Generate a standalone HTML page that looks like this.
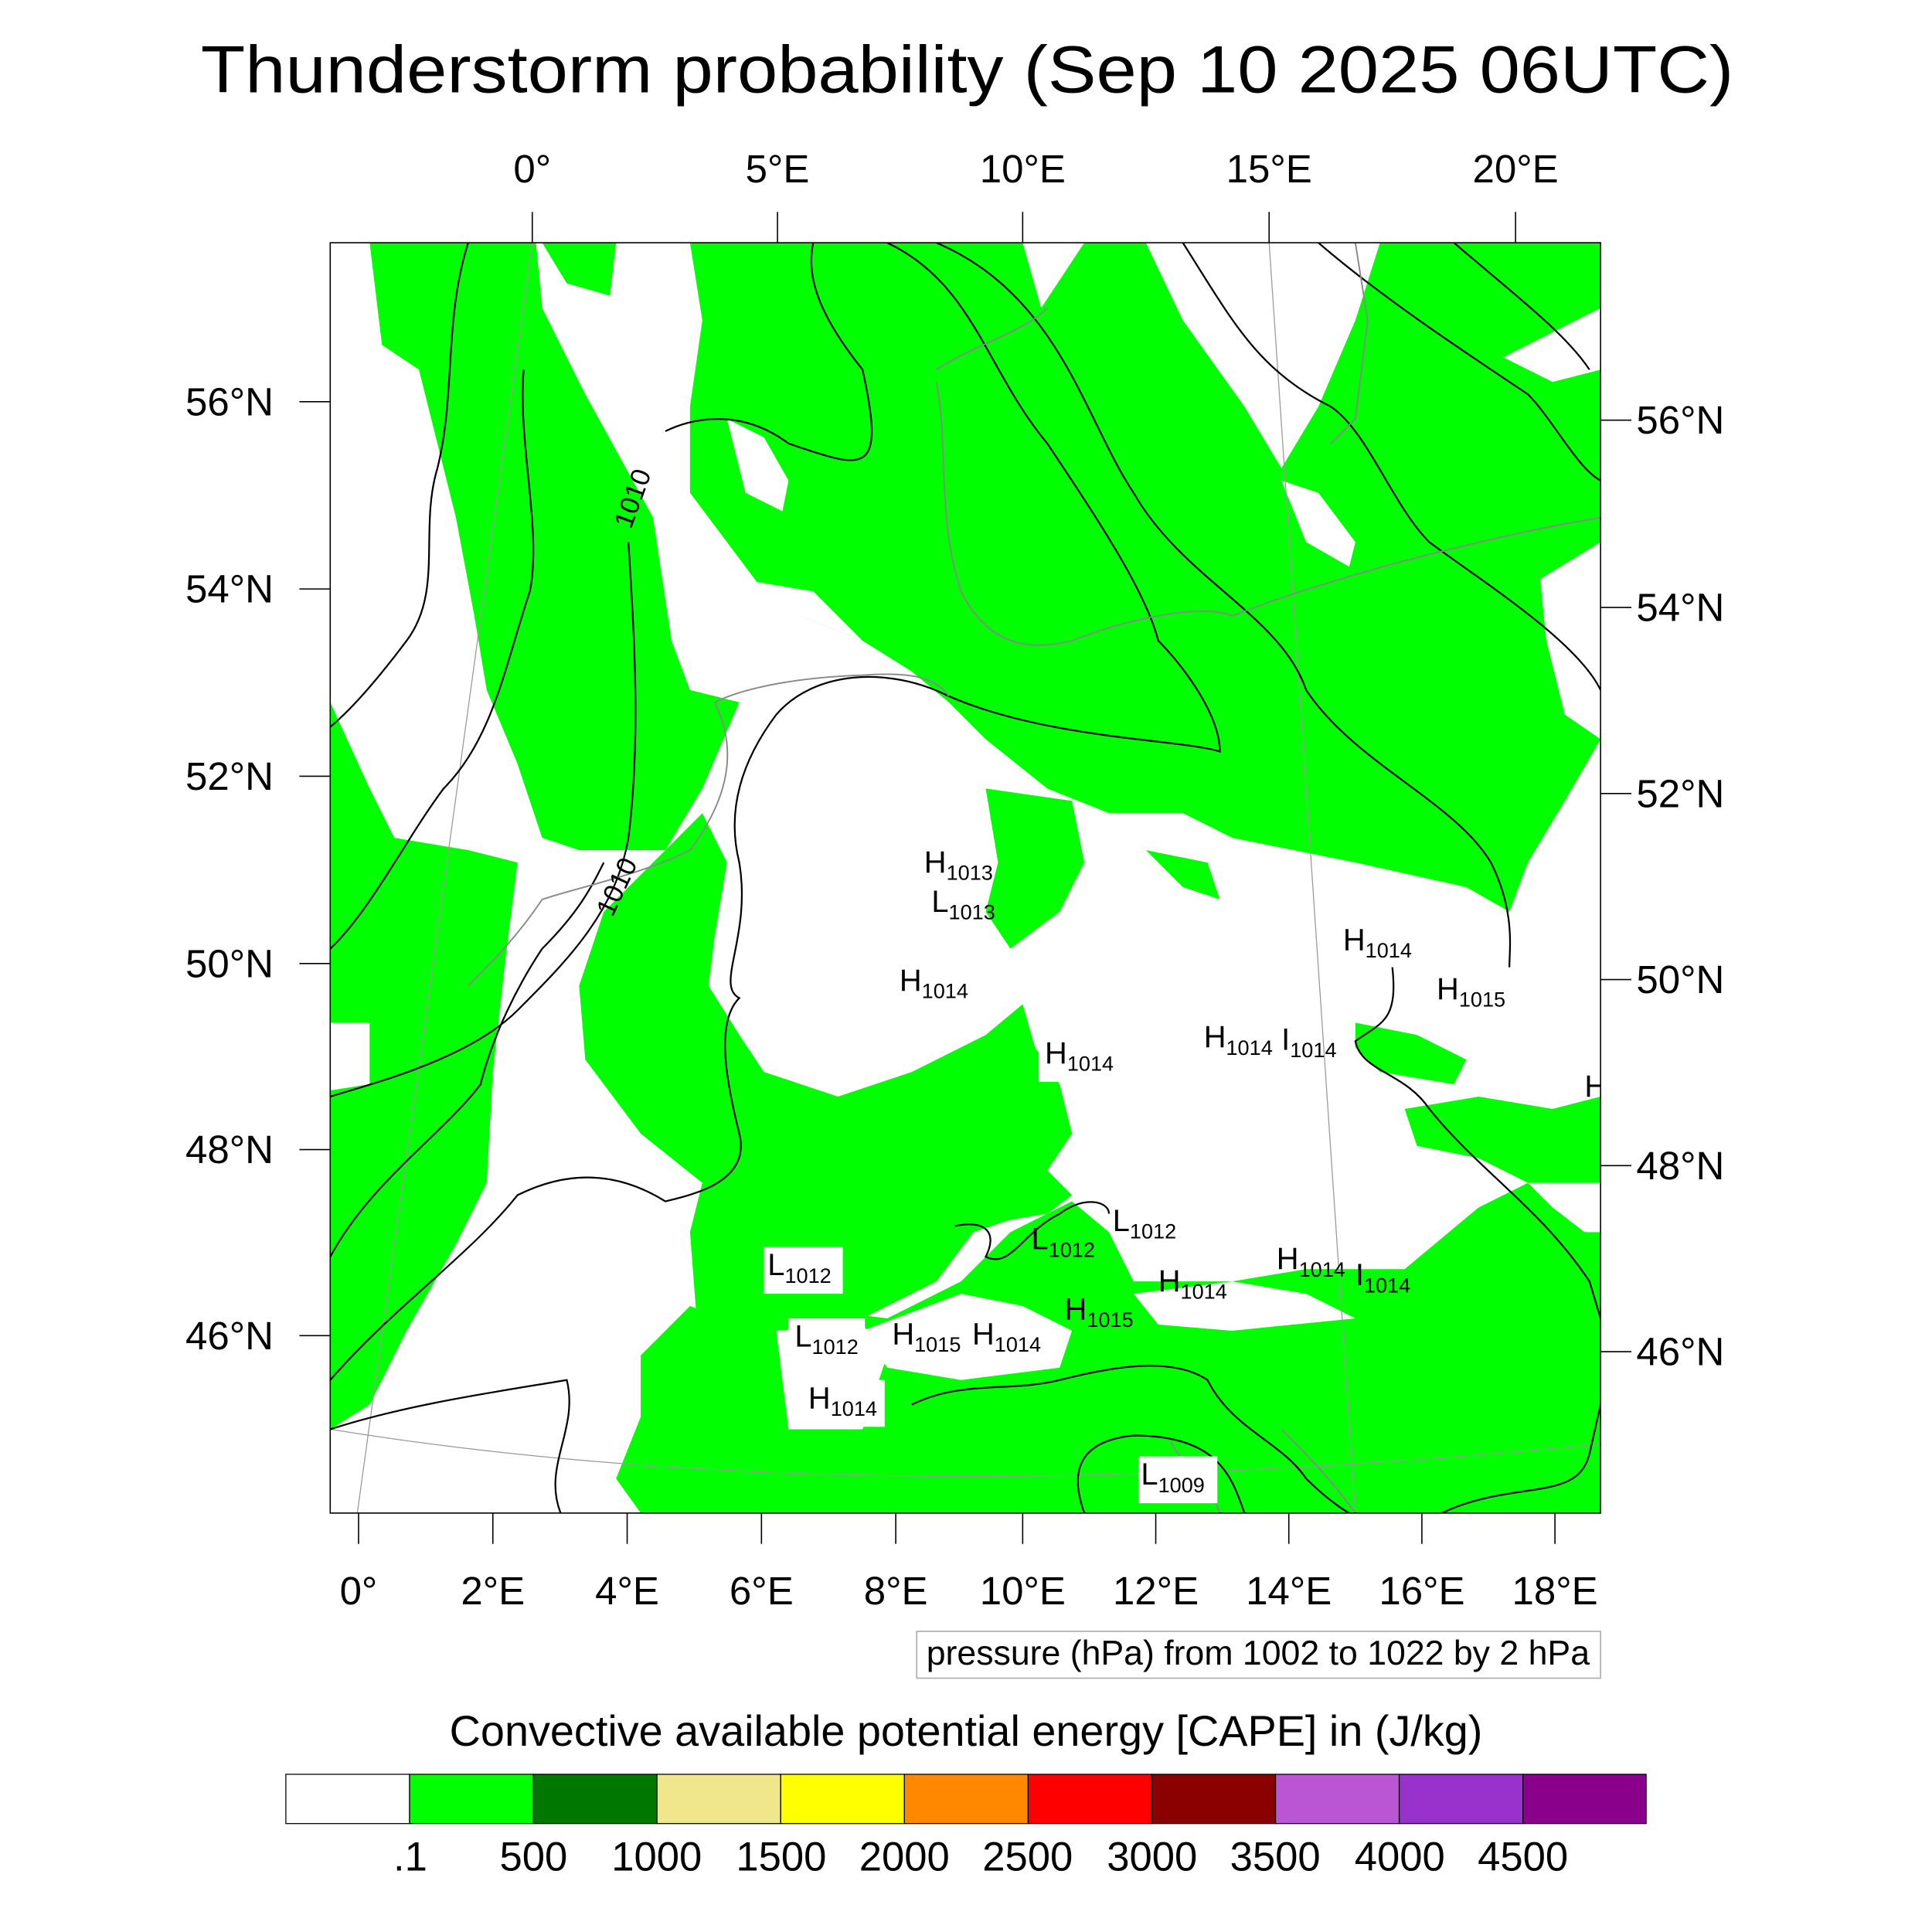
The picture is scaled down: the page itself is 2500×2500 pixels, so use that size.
<!DOCTYPE html>
<html><head><meta charset="utf-8"><style>
html,body{margin:0;padding:0;background:#fff}
svg{display:block}
text{font-family:"Liberation Sans",Arial,sans-serif;fill:#000}
</style></head><body>
<svg width="2500" height="2500" viewBox="0 0 1568 1568" xmlns="http://www.w3.org/2000/svg">
<rect width="1568" height="1568" fill="#fff"/>
<text x="785" y="75" font-size="54" text-anchor="middle" textLength="1244" lengthAdjust="spacingAndGlyphs">Thunderstorm probability (Sep 10 2025 06UTC)</text>
<defs><clipPath id="c"><rect x="268" y="197" width="1031" height="1031"/></clipPath></defs>
<g clip-path="url(#c)">
<g fill="#00ff00">
<polygon points="300,197 435,197 440,250 475,320 530,420 545,520 560,560 600,570 570,640 540,690 470,690 440,680 420,620 395,560 385,500 370,420 340,300 310,280"/>
<polygon points="440,197 500,197 495,240 460,230"/>
<polygon points="268,570 300,640 320,680 380,690 420,700 410,780 400,870 395,960 370,1010 330,1080 300,1140 268,1160"/>
<polygon points="470,800 490,740 540,690 570,660 590,700 580,760 575,800 600,840 620,870 680,890 740,870 800,840 830,815 840,850 860,880 870,920 850,950 870,970 850,985 820,990 790,1000 760,1040 700,1070 650,1080 600,1075 565,1065 560,1000 570,960 520,920 475,860"/>
<polygon points="520,1100 560,1060 600,1075 640,1060 720,1070 780,1040 820,1000 870,975 900,1000 920,1040 1000,1040 1060,1030 1140,1030 1200,980 1240,960 1260,980 1299,1010 1299,1228 520,1228 500,1200 520,1150"/>
<polygon points="560,197 830,197 845,250 880,197 930,197 960,260 1010,330 1040,380 1070,330 1100,260 1120,197 1299,197 1299,250 1220,290 1260,310 1299,300 1299,600 1270,650 1240,700 1225,740 1190,720 1100,700 1000,680 960,660 900,660 850,640 800,600 770,570 740,545 700,520 650,500 620,480 590,440 560,400 560,330 570,260"/>
<polygon points="800,640 870,650 880,700 860,740 820,770 800,740 810,700"/>
<polygon points="930,690 980,700 990,730 960,720"/>
<polygon points="1100,830 1150,840 1190,860 1180,880 1120,870 1100,850"/>
<polygon points="1140,900 1200,890 1260,900 1299,890 1299,960 1240,960 1200,940 1150,930"/>
<polygon points="1150,1025 1180,1000 1299,1000 1299,1060 1180,1060"/>
</g>
<g fill="#fff">
<polygon points="1040,390 1070,400 1100,440 1095,460 1060,440"/>
<polygon points="1250,470 1299,440 1299,600 1270,580 1255,520"/>
<polygon points="600,470 660,480 700,520 650,500 620,490"/>
<polygon points="590,340 620,355 640,390 635,415 605,400"/>
<polygon points="630,1080 700,1075 720,1100 700,1160 640,1160"/>
<polygon points="700,1080 780,1050 830,1060 870,1080 860,1110 780,1120 720,1110"/>
<polygon points="920,1050 1000,1040 1060,1050 1100,1070 1000,1080 940,1075"/>
<polygon points="268,830 300,830 300,880 268,885"/>
</g>
<g stroke="#999" stroke-width="0.8" fill="none">
<line x1="432" y1="197" x2="290" y2="1228"/>
<line x1="1030" y1="197" x2="1100" y2="1228"/>
<path d="M268,1160 Q700,1230 1299,1172"/>
</g>
<g stroke="#000" stroke-width="1.4" fill="none">
<path d="M380,197 C360,260 370,320 355,380 C340,430 360,480 330,520 C300,560 280,580 268,590"/>
<path d="M425,300 C420,360 440,430 430,480 C410,540 400,600 360,640 C330,680 300,740 268,770"/>
<path d="M510,440 C515,520 520,600 510,680 C500,740 460,780 420,820 C380,860 300,880 268,890"/>
<path d="M268,1020 C300,960 360,920 390,880 C400,840 420,800 440,770 C470,740 480,720 490,700"/>
<path d="M540,350 C560,340 600,330 640,360 C700,380 720,390 700,300 C660,250 655,220 660,197"/>
<path d="M720,197 C790,230 800,300 850,360 C890,420 930,480 940,520 C960,540 990,580 990,610 C960,600 850,600 770,565 C720,540 660,545 630,580 C600,620 590,660 600,700 C610,760 580,800 600,810 C580,830 590,880 600,920 C610,960 560,970 540,975 C500,950 460,950 420,970 C380,1020 320,1060 268,1120"/>
<path d="M760,197 C860,240 880,340 920,400 C960,470 1040,500 1060,560 C1100,620 1180,650 1210,700 C1230,740 1225,770 1225,785"/>
<path d="M960,197 C1000,260 1020,300 1080,330 C1110,350 1130,410 1160,440 C1200,470 1280,520 1299,560"/>
<path d="M1070,197 C1120,240 1180,280 1240,320 C1260,340 1280,380 1299,390"/>
<path d="M1180,197 C1230,240 1270,270 1290,300"/>
<path d="M1130,785 C1135,830 1120,830 1100,845 C1105,870 1140,870 1160,900 C1200,950 1250,980 1290,1040 L1299,1070"/>
<path d="M268,1160 C330,1140 400,1130 460,1120 C470,1160 440,1190 455,1228"/>
<path d="M740,1140 C780,1120 820,1130 860,1120 C900,1110 950,1100 980,1120 C1000,1160 1040,1170 1060,1200 C1080,1220 1095,1228 1095,1228"/>
<path d="M880,1228 C870,1200 870,1170 920,1165 C990,1165 1000,1200 1010,1228"/>
<path d="M1170,1228 C1230,1200 1280,1220 1290,1180 L1299,1140"/>
<path d="M775,995 C800,990 810,1000 800,1020 C820,1030 830,1000 860,985 C880,970 900,975 900,985"/>
</g>
<g stroke="#888" stroke-width="1.2" fill="none">
<path d="M580,570 C600,560 640,550 700,548 C740,545 760,550 770,565"/>
<path d="M580,570 C600,610 590,650 560,690 C520,710 470,720 440,730 C420,760 400,780 380,800"/>
<path d="M760,300 C790,280 830,270 850,250 M760,310 C770,360 760,420 780,480 C800,520 830,530 870,520 C920,500 980,490 1000,500 C1050,480 1120,460 1160,450 C1200,440 1240,430 1299,420"/>
<path d="M1100,197 L1110,260 L1100,340 L1080,360"/>
<path d="M950,1170 C960,1190 980,1200 990,1228 M1040,1160 C1060,1180 1080,1200 1100,1228"/>
</g>
<g font-size="25">
<g fill="#fff"><rect x="620" y="1012" width="64" height="38"/><rect x="640" y="1070" width="62" height="36"/><rect x="652" y="1120" width="66" height="38"/><rect x="843" y="840" width="66" height="38"/><rect x="924" y="1182" width="64" height="38"/></g>
<text x="750" y="708">H<tspan font-size="17" dy="6">1013</tspan></text>
<text x="756" y="740">L<tspan font-size="17" dy="6">1013</tspan></text>
<text x="730" y="804">H<tspan font-size="17" dy="6">1014</tspan></text>
<text x="848" y="863">H<tspan font-size="17" dy="6">1014</tspan></text>
<text x="977" y="850">H<tspan font-size="17" dy="6">1014</tspan></text>
<text x="1040" y="852">I<tspan font-size="17" dy="6">1014</tspan></text>
<text x="1090" y="771">H<tspan font-size="17" dy="6">1014</tspan></text>
<text x="1166" y="811">H<tspan font-size="17" dy="6">1015</tspan></text>
<text x="1286" y="890">H</text>
<text x="623" y="1035">L<tspan font-size="17" dy="6">1012</tspan></text>
<text x="645" y="1093">L<tspan font-size="17" dy="6">1012</tspan></text>
<text x="656" y="1143">H<tspan font-size="17" dy="6">1014</tspan></text>
<text x="724" y="1091">H<tspan font-size="17" dy="6">1015</tspan></text>
<text x="789" y="1091">H<tspan font-size="17" dy="6">1014</tspan></text>
<text x="864" y="1071">H<tspan font-size="17" dy="6">1015</tspan></text>
<text x="837" y="1014">L<tspan font-size="17" dy="6">1012</tspan></text>
<text x="903" y="999">L<tspan font-size="17" dy="6">1012</tspan></text>
<text x="940" y="1048">H<tspan font-size="17" dy="6">1014</tspan></text>
<text x="1036" y="1030">H<tspan font-size="17" dy="6">1014</tspan></text>
<text x="1100" y="1043">I<tspan font-size="17" dy="6">1014</tspan></text>
<text x="926" y="1205">L<tspan font-size="17" dy="6">1009</tspan></text>
<text transform="translate(512,430) rotate(-70)" font-size="22">1010</text>
<text transform="translate(497,745) rotate(-65)" font-size="22">1010</text>
</g>
</g>
<rect x="268" y="197" width="1031" height="1031" fill="none" stroke="#000" stroke-width="1"/>
<g stroke="#000" stroke-width="1">
<line x1="432" y1="172" x2="432" y2="197"/><line x1="631" y1="172" x2="631" y2="197"/><line x1="830" y1="172" x2="830" y2="197"/><line x1="1030" y1="172" x2="1030" y2="197"/><line x1="1230" y1="172" x2="1230" y2="197"/>
<line x1="243" y1="326" x2="268" y2="326"/><line x1="243" y1="478" x2="268" y2="478"/><line x1="243" y1="630" x2="268" y2="630"/><line x1="243" y1="782" x2="268" y2="782"/><line x1="243" y1="933" x2="268" y2="933"/><line x1="243" y1="1084" x2="268" y2="1084"/>
<line x1="1299" y1="341" x2="1324" y2="341"/><line x1="1299" y1="493" x2="1324" y2="493"/><line x1="1299" y1="644" x2="1324" y2="644"/><line x1="1299" y1="795" x2="1324" y2="795"/><line x1="1299" y1="946" x2="1324" y2="946"/><line x1="1299" y1="1097" x2="1324" y2="1097"/>
<line x1="291" y1="1228" x2="291" y2="1253"/><line x1="400" y1="1228" x2="400" y2="1253"/><line x1="509" y1="1228" x2="509" y2="1253"/><line x1="618" y1="1228" x2="618" y2="1253"/><line x1="727" y1="1228" x2="727" y2="1253"/><line x1="830" y1="1228" x2="830" y2="1253"/><line x1="938" y1="1228" x2="938" y2="1253"/><line x1="1046" y1="1228" x2="1046" y2="1253"/><line x1="1154" y1="1228" x2="1154" y2="1253"/><line x1="1262" y1="1228" x2="1262" y2="1253"/>
</g>
<g font-size="32" text-anchor="middle">
<text x="432" y="148">0°</text><text x="631" y="148">5°E</text><text x="830" y="148">10°E</text><text x="1030" y="148">15°E</text><text x="1230" y="148">20°E</text>
<text x="291" y="1302">0°</text><text x="400" y="1302">2°E</text><text x="509" y="1302">4°E</text><text x="618" y="1302">6°E</text><text x="727" y="1302">8°E</text><text x="830" y="1302">10°E</text><text x="938" y="1302">12°E</text><text x="1046" y="1302">14°E</text><text x="1154" y="1302">16°E</text><text x="1262" y="1302">18°E</text>
</g>
<g font-size="32" text-anchor="end">
<text x="222" y="337">56°N</text><text x="222" y="489">54°N</text><text x="222" y="641">52°N</text><text x="222" y="793">50°N</text><text x="222" y="944">48°N</text><text x="222" y="1095">46°N</text>
</g>
<g font-size="32">
<text x="1328" y="352">56°N</text><text x="1328" y="504">54°N</text><text x="1328" y="655">52°N</text><text x="1328" y="806">50°N</text><text x="1328" y="957">48°N</text><text x="1328" y="1108">46°N</text>
</g>
<rect x="744" y="1324" width="555" height="38" fill="#fff" stroke="#aaa"/>
<text x="1021" y="1351" font-size="28" text-anchor="middle">pressure (hPa) from 1002 to 1022 by 2 hPa</text>
<text x="784" y="1417" font-size="35" text-anchor="middle">Convective available potential energy [CAPE] in (J/kg)</text>
<g stroke="#000" stroke-width="0.8">
<rect x="232" y="1440" width="100.4" height="40" fill="#fff"/>
<rect x="332.4" y="1440" width="100.4" height="40" fill="#00ff00"/>
<rect x="432.8" y="1440" width="100.4" height="40" fill="#007800"/>
<rect x="533.2" y="1440" width="100.4" height="40" fill="#f0e68c"/>
<rect x="633.6" y="1440" width="100.4" height="40" fill="#ffff00"/>
<rect x="734" y="1440" width="100.4" height="40" fill="#ff8800"/>
<rect x="834.4" y="1440" width="100.4" height="40" fill="#ff0000"/>
<rect x="934.8" y="1440" width="100.4" height="40" fill="#8b0000"/>
<rect x="1035.2" y="1440" width="100.4" height="40" fill="#ba55d3"/>
<rect x="1135.6" y="1440" width="100.4" height="40" fill="#9932cc"/>
<rect x="1236" y="1440" width="100" height="40" fill="#8b008b"/>
</g>
<g font-size="33" text-anchor="middle">
<text x="333" y="1518">.1</text><text x="433" y="1518">500</text><text x="533" y="1518">1000</text><text x="634" y="1518">1500</text><text x="734" y="1518">2000</text><text x="834" y="1518">2500</text><text x="935" y="1518">3000</text><text x="1035" y="1518">3500</text><text x="1136" y="1518">4000</text><text x="1236" y="1518">4500</text>
</g>
</svg>
</body></html>
